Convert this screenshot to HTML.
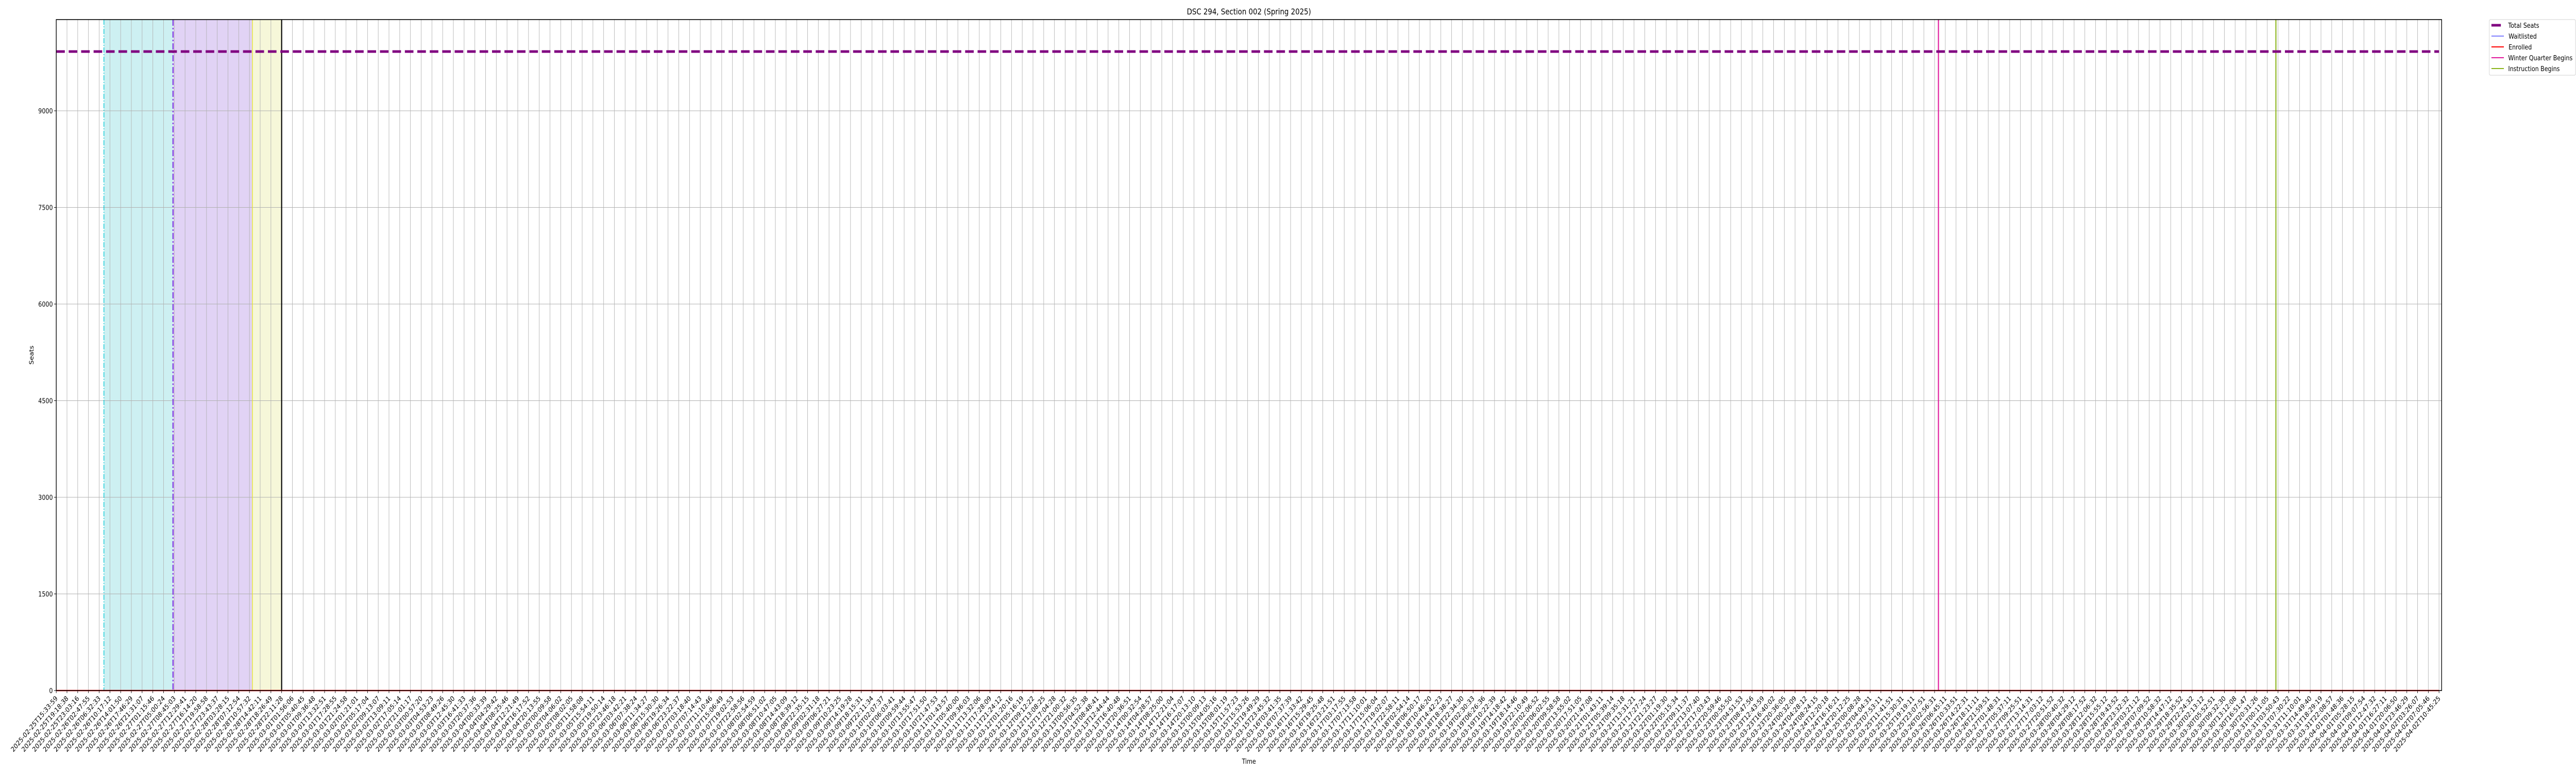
<!DOCTYPE html>
<html><head><meta charset="utf-8"><style>
html,body{margin:0;padding:0;background:#fff;width:100%;height:100%;overflow:hidden;}
svg{display:block;width:100vw;height:100vh;}
svg text{font-family:"DejaVu Sans","Liberation Sans",sans-serif;fill:#000;}
</style></head><body>
<svg id="chart" viewBox="0 0 6000 1500" preserveAspectRatio="none" xmlns="http://www.w3.org/2000/svg" overflow="hidden">
<rect x="0" y="0" width="6000" height="1500" fill="#fff"/>
<g id="bands"></g>
<g id="grid"></g>
<g id="events"></g>
<g id="series"></g>
<rect x="131" y="38" width="5556" height="1302" fill="none" stroke="#000" stroke-width="1.6"/>
<g id="xticks"></g>
<g id="yticks"></g>
<text x="2909" y="28" font-size="16" text-anchor="middle">DSC 294, Section 002 (Spring 2025)</text>
<text x="2909" y="1482" font-size="13.3" text-anchor="middle">Time</text>
<text x="0" y="0" font-size="13.3" text-anchor="middle" transform="translate(78,689) rotate(-90)">Seats</text>
<g>
<rect x="5798" y="38" width="201" height="108" rx="3" fill="#fff" stroke="#d0d0d0" stroke-width="1"/>
<line x1="5803" y1="49" x2="5825" y2="49" stroke="#800080" stroke-width="5"/>
<text x="5842" y="54" font-size="13.3">Total Seats</text>
<line x1="5803" y1="70" x2="5832" y2="70" stroke="#0000ff" stroke-width="1"/>
<text x="5843" y="75" font-size="13.3">Waitlisted</text>
<line x1="5803" y1="91" x2="5832" y2="91" stroke="#ff0000" stroke-width="2"/>
<text x="5843" y="96" font-size="13.3">Enrolled</text>
<line x1="5803" y1="112" x2="5832" y2="112" stroke="#e0189b" stroke-width="2"/>
<text x="5842" y="117" font-size="13.3" textLength="150" lengthAdjust="spacingAndGlyphs">Winter Quarter Begins</text>
<line x1="5803" y1="133" x2="5832" y2="133" stroke="#8ab41a" stroke-width="2"/>
<text x="5842" y="138" font-size="13.3">Instruction Begins</text>
</g>
</svg>
<script>
// ---- data ----
const anchorIdx = [0, 23, 169, 200, 222];
const anchorTimes = ["2025-02-25T15:33:59","2025-03-01T05:40:45","2025-03-25T04:04:31","2025-03-30T02:13:12","2025-04-02T10:45:25"];
const nPoints = 223;
const totalSeatsValue = 9920;
const enrolledValue = 0;
const waitlistedValue = 0;
const yTicks = [0,1500,3000,4500,6000,7500,9000];
const bandStarts = [4.44, 10.88, 18.28];
const bandEnds = [10.88, 18.28, 21.0];
const bandColors = ["#cdf0f2","#e1d3f5","#f6f7d9"];
const eventPositions = [4.44, 10.88, 18.28, 21.0, 175.36, 206.8];
const eventNames = ["cyan-marker","purple-marker","yellow-marker","black-marker","winter-quarter-begins-line","instruction-begins-line"];
// ---- scales ----
const X0=131, DX=25, Y0=1340, YTOP=38, YMAX=10416;
function xs(i){return X0+i*DX;}
function ys(v){return Y0-(v/YMAX)*(Y0-YTOP);}
const NS="http://www.w3.org/2000/svg";
function mk(tag,attrs,parent){const e=document.createElementNS(NS,tag);for(const k in attrs)e.setAttribute(k,attrs[k]);parent.appendChild(e);return e;}
function pad(n){return String(n).padStart(2,'0');}
function fmt(ms){const d=new Date(ms);return d.getUTCFullYear()+"-"+pad(d.getUTCMonth()+1)+"-"+pad(d.getUTCDate())+"T"+pad(d.getUTCHours())+":"+pad(d.getUTCMinutes())+":"+pad(d.getUTCSeconds());}
const aMs = anchorTimes.map(t=>Date.parse(t+"Z"));
const tickLabels=[];
for(let i=0;i<nPoints;i++){
  let k=0; while(k<anchorIdx.length-2 && i>anchorIdx[k+1]) k++;
  const t=aMs[k]+(aMs[k+1]-aMs[k])*(i-anchorIdx[k])/(anchorIdx[k+1]-anchorIdx[k]);
  tickLabels.push(i===0?anchorTimes[0]:fmt(Math.round(t/1000)*1000));
}
const bands=document.getElementById('bands');
for(let b=0;b<bandStarts.length;b++){
  const r=mk('rect',{x:xs(bandStarts[b]),y:YTOP,width:xs(bandEnds[b])-xs(bandStarts[b]),height:Y0-YTOP,fill:bandColors[b]},bands);
  
  
}
const grid=document.getElementById('grid');
const xt=document.getElementById('xticks');
for(let i=0;i<nPoints;i++){
  const x=xs(i);
  const g=mk('line',{x1:x,y1:YTOP,x2:x,y2:Y0,stroke:'#b0b0b0','stroke-width':1},grid);
  
  
  mk('line',{x1:x,y1:Y0,x2:x,y2:Y0+5,stroke:'#000','stroke-width':1},xt);
  const t=mk('text',{x:x+4,y:Y0+16,'font-size':'13.5','text-anchor':'end',transform:`rotate(-45 ${x+4} ${Y0+16})`},xt);
  
  
  t.textContent=tickLabels[i];
}
const yt=document.getElementById('yticks');
yTicks.forEach(v=>{
  const y=ys(v);
  if(v>0){const g=mk('line',{x1:X0,y1:y,x2:X0+5556,y2:y,stroke:'#b0b0b0','stroke-width':1},grid);
    
    }
  mk('line',{x1:X0-5,y1:y,x2:X0,y2:y,stroke:'#000','stroke-width':1},yt);
  const t=mk('text',{x:X0-8,y:y+5,'font-size':'13.3','text-anchor':'end'},yt);
  
  
  t.textContent=String(v);
});
const ev=document.getElementById('events');
const evStyle=[
  {stroke:'#00c8d4',w:1.5,dash:'10 3 2 3'},
  {stroke:'#7b2be2',w:2.5,dash:'12 4 3 4'},
  {stroke:'#e8e820',w:1.5,dash:''},
  {stroke:'#000000',w:2.5,dash:''},
  {stroke:'#e0189b',w:2.5,dash:''},
  {stroke:'#8ab41a',w:2.5,dash:''}];
for(let e=0;e<eventPositions.length;e++){
  const x=xs(eventPositions[e]);
  const l=mk('line',{x1:x,y1:YTOP,x2:x,y2:Y0,stroke:evStyle[e].stroke,'stroke-width':evStyle[e].w},ev);
  if(evStyle[e].dash) l.setAttribute('stroke-dasharray',evStyle[e].dash);
  
  
}
const se=document.getElementById('series');
function poly(val,color,w,dash,name){
  let pts=[];for(let i=0;i<nPoints;i++)pts.push(xs(i)+','+ys(val));
  const p=mk('polyline',{points:pts.join(' '),fill:'none',stroke:color,'stroke-width':w},se);
  if(dash)p.setAttribute('stroke-dasharray',dash);
  
  
}
poly(waitlistedValue,'#0000ff',1.5,'','waitlisted-line');
poly(enrolledValue,'#ff0000',2.5,'','enrolled-line');
poly(totalSeatsValue,'#800080',5,'20 9','total-seats-line');
</script>
</body></html>
